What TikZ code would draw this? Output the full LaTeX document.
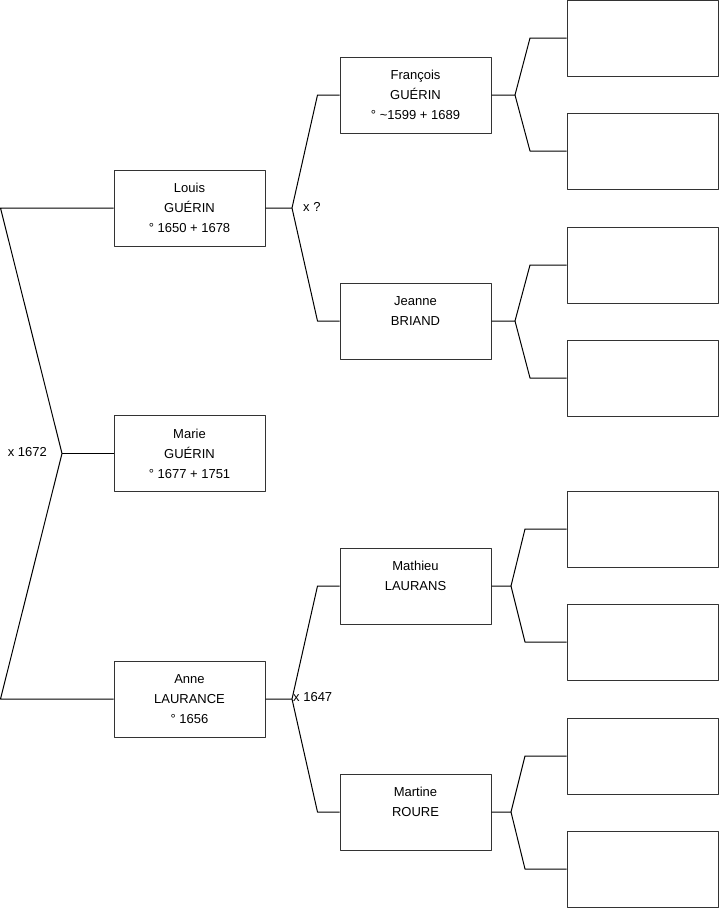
\documentclass[tikz,border=0pt]{standalone}
\usepackage{fontspec}
\setmainfont{Liberation Sans}
\usetikzlibrary{positioning}
\begin{document}
\begin{tikzpicture}[x=1pt, y=-1pt, line join=round, font=\fontsize{13}{20}\selectfont,
		person/.style={draw=black!80, line width=1pt, minimum width=151pt, minimum height=76pt, align=center, inner sep=0pt},
		link/.style={line width=1pt},
		union/.style={inner sep=0pt}]
			\useasboundingbox (0,0) rectangle (719,908);
			\def \xa{189.5}
			\def \xb{415.5}
			\def \xc{642.5}
			% --- child and parents
			\node[person] (marie) at (\xa,453.5) {Marie\\GUÉRIN\\° 1677 + 1751};
			\node[person] (louis) at (\xa,208) {Louis\\GUÉRIN\\° 1650 + 1678};
			\node[person] (anne) at (\xa,699) {Anne\\LAURANCE\\° 1656};
			% --- grandparents
			\node[person] (francois) at (\xb,95) {François\\GUÉRIN\\° \textasciitilde1599 + 1689};
			\node[person] (jeanne) at (\xb,321) {Jeanne\\BRIAND\\~};
			\node[person] (mathieu) at (\xb,586) {Mathieu\\LAURANS\\~};
			\node[person] (martine) at (\xb,812) {Martine\\ROURE\\~};
			% --- great-grandparents, unknown
			\foreach \n/\y in {a/38, b/151, c/265, d/378, e/529, f/642, g/756, h/869}
				\node[person] (gg\n) at (\xc,\y) {};
			% --- forks
			\coordinate (ltop) at (0.5,208);
			\coordinate (lfork) at (62,453.5);
			\coordinate (lbot) at (0.5,699);
			\draw[link] (louis.west) -- (ltop) -- (lfork) -- (lbot) -- (anne.west);
			\draw[link] (lfork) -- (marie.west);
			\node[union, anchor=east] (m1672) at (47,452) {x 1672};
			% ---
			\coordinate (pfork) at (292,208);
			\draw[link] (louis.east) -- (pfork) -- ([xshift=-22pt]francois.west) -- (francois.west);
			\draw[link] (pfork) -- ([xshift=-22pt]jeanne.west) -- (jeanne.west);
			\node[union, anchor=west] (mpat) at (303,207) {x ?};
			\coordinate (mfork) at (292,699);
			\draw[link] (anne.east) -- (mfork) -- ([xshift=-22pt]mathieu.west) -- (mathieu.west);
			\draw[link] (mfork) -- ([xshift=-22pt]martine.west) -- (martine.west);
			\node[union, anchor=west] (m1647) at (293,697) {x 1647};
			% ---
			\foreach \p/\u/\v/\f/\b in {francois/gga/ggb/515/530, jeanne/ggc/ggd/515/530, mathieu/gge/ggf/511/525, martine/ggg/ggh/511/525} {
				\coordinate (f\p) at (\f,0 |- \p.east);
				\draw[link] (\p.east) -- (f\p) -- (\b,0 |- \u.west) -- (\u.west);
				\draw[link] (f\p) -- (\b,0 |- \v.west) -- (\v.west);
			}
		\end{tikzpicture}
\end{document}
